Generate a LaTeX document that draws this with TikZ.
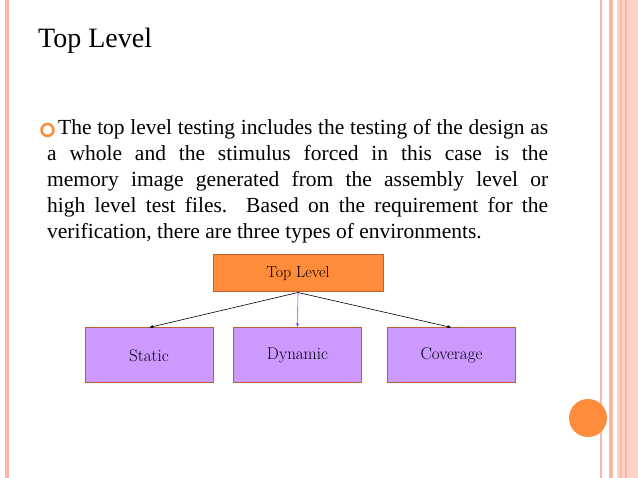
\documentclass[tikz,border=0pt]{standalone}
\usepackage{fontspec}
\setmainfont{Liberation Serif}
\newfontfamily\lmfont{Latin Modern Roman}
\usetikzlibrary{arrows.meta}
\definecolor{pinkline}{HTML}{F8B8A8}
\definecolor{pinkband}{HTML}{FCD3C6}
\definecolor{orangebox}{HTML}{FF8C3A}
\definecolor{violetbox}{HTML}{CC99FF}
\definecolor{boxedge}{HTML}{C0602A}
\definecolor{arrowviolet}{HTML}{9933FF}
\tikzset{
 topbox/.style={draw=boxedge,fill=orangebox,line width=1pt,minimum width=170pt,minimum height=37pt,font=\lmfont\fontsize{16}{18}\selectfont},
 subbox/.style={draw=boxedge,fill=violetbox,line width=1pt,minimum width=128pt,minimum height=55pt,font=\lmfont\fontsize{17}{19}\selectfont},
 conn/.style={-{Latex[length=4pt,width=3pt]},line width=0.6pt}
}
\begin{document}
\begin{tikzpicture}[x=1pt,y=-1pt]
\useasboundingbox (0,0) rectangle (638,478);
\fill[white] (0,0) rectangle (638,478);
\fill[pinkline] (5,0) rectangle (9,478);
\fill[pinkline] (600,0) rectangle (602,478);
\fill[pinkline] (609,0) rectangle (613,478);
\fill[pinkband] (617,0) rectangle (638,478);
\fill[pinkline] (620,0) rectangle (622,478);
\fill[pinkline] (625,0) rectangle (627,478);
\node[anchor=west,inner sep=0pt,font=\fontsize{28}{30}\selectfont] (title) at (38,41) {Top Level};
\draw[orangebox,line width=2.5pt] (47.5,130) circle (6);
\node[anchor=north west,inner sep=0pt,text width=501pt,align=justify,font=\fontsize{21.5}{26}\selectfont] (body) at (47,119)
 {\hspace*{11pt}The top level testing includes the testing of the design as\linebreak
 a whole and the stimulus forced in this case is the\linebreak
 memory image generated from the assembly level or\linebreak
 high level test files. Based on the requirement for the\linebreak
 verification, there are three types of environments.};
\node[topbox] (top) at (298,273.5) {Top Level};
\node[subbox] (st) at (149,355.5) {Static};
\node[subbox] (dy) at (297.5,355.5) {Dynamic};
\node[subbox] (co) at (451.5,355.5) {Coverage};
\draw[conn] (top.south) -- (st.north);
\draw[conn,draw=arrowviolet,-{Latex[length=4pt,width=3pt,fill=arrowviolet]}] (top.south) -- (dy.north);
\draw[conn] (top.south) -- (co.north);
\fill[orangebox] (588,418) circle (19);
\end{tikzpicture}
\end{document}
